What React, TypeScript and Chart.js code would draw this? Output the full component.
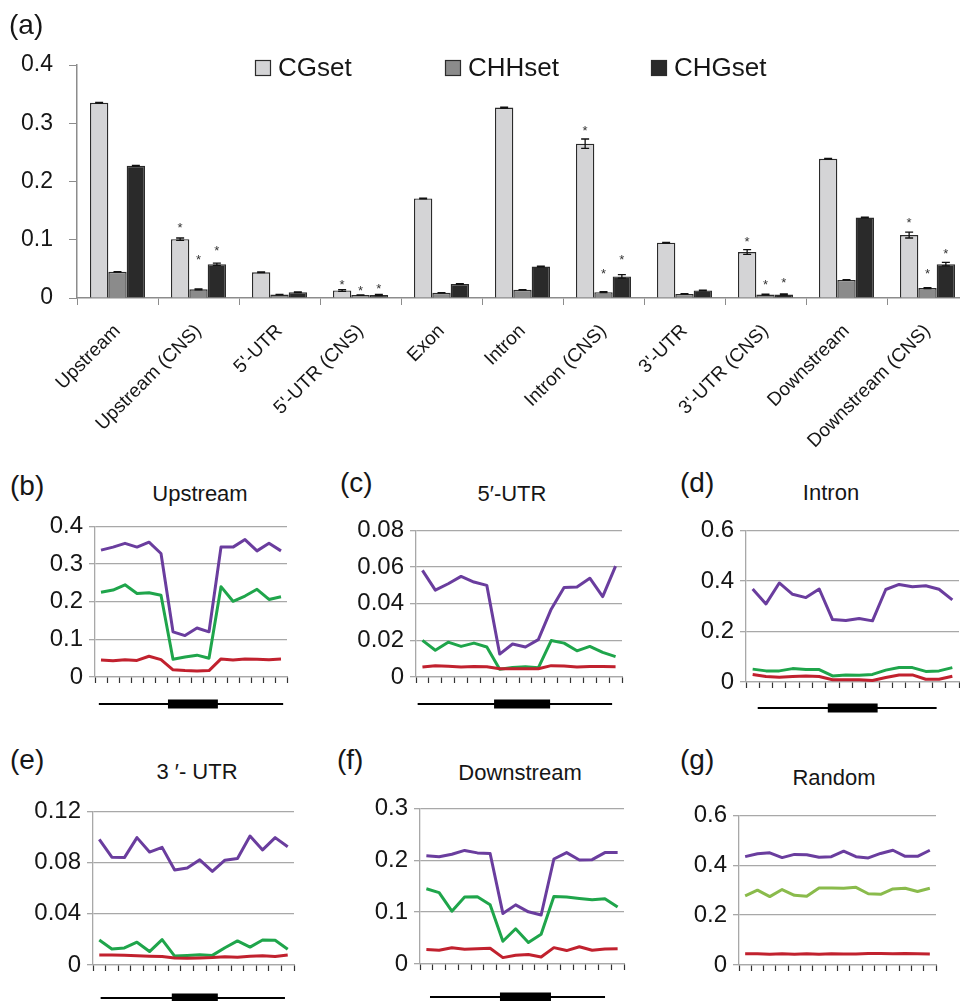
import React, { useEffect, useRef } from "react";
import { Chart, registerables } from "chart.js";

Chart.register(...registerables);

const FONT = "'Liberation Sans', Arial, Helvetica, sans-serif";

// ---------------- Panel (a) data ----------------
const regionLabels = [
  "Upstream",
  "Upstream (CNS)",
  "5'-UTR",
  "5'-UTR (CNS)",
  "Exon",
  "Intron",
  "Intron (CNS)",
  "3'-UTR",
  "3'-UTR (CNS)",
  "Downstream",
  "Downstream (CNS)",
];
const cgValues = [0.335, 0.101, 0.044, 0.013, 0.171, 0.327, 0.265, 0.095, 0.079, 0.239, 0.108];
const chhValues = [0.045, 0.015, 0.006, 0.005, 0.009, 0.014, 0.010, 0.007, 0.006, 0.031, 0.017];
const chgValues = [0.227, 0.058, 0.010, 0.005, 0.024, 0.054, 0.037, 0.013, 0.006, 0.138, 0.058];
const cgErrors = [0.0006, 0.002, 0.0006, 0.0015, 0.0006, 0.0008, 0.008, 0.0006, 0.004, 0.0006, 0.005];
const chhErrors = [0.0004, 0.0008, 0.0003, 0.0004, 0.0003, 0.0004, 0.0008, 0.0003, 0.0004, 0.0004, 0.0008];
const chgErrors = [0.0006, 0.002, 0.0006, 0.001, 0.0006, 0.0006, 0.003, 0.0006, 0.001, 0.0006, 0.003];
const cgStars = [null, 0.127, null, 0.028, null, null, 0.292, null, 0.102, null, 0.134];
const chhStars = [null, 0.072, null, 0.018, null, null, 0.048, null, 0.029, null, 0.047];
const chgStars = [null, 0.086, null, 0.021, null, null, 0.071, null, 0.032, null, 0.081];
const barSeriesNames = ["CGset", "CHHset", "CHGset"];

// ---------------- Line panels data ----------------
const bins = ["1", "2", "3", "4", "5", "6", "7", "8", "9", "10", "11", "12", "13", "14", "15", "16"];

const upstreamCG = [0.337, 0.345, 0.355, 0.345, 0.358, 0.328, 0.12, 0.11, 0.13, 0.12, 0.345, 0.345, 0.365, 0.335, 0.355, 0.335];
const upstreamCHG = [0.225, 0.231, 0.245, 0.222, 0.224, 0.217, 0.047, 0.053, 0.058, 0.05, 0.24, 0.201, 0.215, 0.233, 0.206, 0.213];
const upstreamCHH = [0.045, 0.043, 0.046, 0.044, 0.055, 0.046, 0.019, 0.017, 0.016, 0.017, 0.048, 0.045, 0.048, 0.047, 0.046, 0.048];

const utr5CG = [0.0582, 0.0474, 0.0509, 0.0549, 0.0518, 0.05, 0.0125, 0.018, 0.0164, 0.0204, 0.037, 0.0488, 0.0491, 0.0539, 0.0439, 0.0605];
const utr5CHG = [0.02, 0.0146, 0.019, 0.0167, 0.0185, 0.0164, 0.0042, 0.0052, 0.0056, 0.005, 0.0199, 0.0185, 0.0143, 0.0167, 0.0134, 0.0111];
const utr5CHH = [0.0055, 0.0062, 0.0058, 0.0055, 0.0057, 0.0056, 0.0045, 0.0045, 0.0045, 0.0045, 0.0062, 0.006, 0.0055, 0.0057, 0.0057, 0.0056];

const intronCG = [0.368, 0.309, 0.392, 0.347, 0.334, 0.368, 0.247, 0.243, 0.251, 0.242, 0.366, 0.386, 0.377, 0.381, 0.367, 0.325];
const intronCHG = [0.051, 0.044, 0.044, 0.053, 0.049, 0.049, 0.024, 0.028, 0.027, 0.03, 0.047, 0.057, 0.057, 0.042, 0.044, 0.057];
const intronCHH = [0.03, 0.022, 0.019, 0.022, 0.024, 0.022, 0.009, 0.009, 0.009, 0.006, 0.018, 0.028, 0.028, 0.011, 0.011, 0.023];

const utr3CG = [0.0982, 0.0842, 0.0839, 0.0995, 0.0882, 0.0919, 0.0742, 0.0757, 0.0822, 0.0731, 0.0819, 0.0832, 0.1007, 0.0899, 0.0995, 0.0924];
const utr3CHG = [0.0195, 0.0125, 0.0133, 0.0178, 0.0105, 0.0198, 0.007, 0.0075, 0.008, 0.0075, 0.0135, 0.0188, 0.014, 0.0195, 0.0193, 0.0123];
const utr3CHH = [0.0078, 0.0078, 0.0076, 0.0072, 0.0068, 0.0066, 0.0055, 0.0052, 0.0055, 0.0058, 0.0065, 0.006, 0.0068, 0.0072, 0.0066, 0.0078];

const downstreamCG = [0.2086, 0.2068, 0.2117, 0.219, 0.2142, 0.213, 0.0975, 0.114, 0.1006, 0.0944, 0.2025, 0.2148, 0.2006, 0.2012, 0.2148, 0.2148];
const downstreamCHG = [0.145, 0.1377, 0.1019, 0.129, 0.1296, 0.1142, 0.0438, 0.0679, 0.0414, 0.0574, 0.1302, 0.129, 0.1265, 0.124, 0.1259, 0.1099];
const downstreamCHH = [0.0278, 0.0265, 0.0315, 0.0284, 0.0296, 0.0302, 0.0123, 0.0167, 0.0185, 0.0136, 0.0315, 0.0259, 0.0333, 0.0265, 0.029, 0.0296];

const randomCG = [0.4346, 0.4462, 0.45, 0.4308, 0.4436, 0.4423, 0.4321, 0.4346, 0.4564, 0.4346, 0.4295, 0.4474, 0.4603, 0.4359, 0.4359, 0.4603];
const randomCHG = [0.2769, 0.3, 0.2744, 0.3026, 0.2795, 0.2756, 0.309, 0.309, 0.3077, 0.3115, 0.2859, 0.2833, 0.3051, 0.3077, 0.2949, 0.3077];
const randomCHH = [0.045, 0.045, 0.043, 0.045, 0.043, 0.045, 0.043, 0.045, 0.044, 0.044, 0.046, 0.046, 0.045, 0.046, 0.045, 0.044];

// ---------------- styles ----------------
const PURPLE = "#6a3d9e";
const GREEN = "#1fa54b";
const LIGHTGREEN = "#8abb4c";
const RED = "#c1212e";
const GRID = "#a8a8a8";
const TEXT = "#161616";

type Gene = { x1: number; x2: number; b1: number; b2: number; dy: number } | null;
type Panel = {
  letter: string;
  title: string;
  cg: number[];
  chg: number[];
  chh: number[];
  chgColor: string;
  max: number;
  step: number;
  area: [number, number, number, number];
  gene: Gene;
  letterPos: [number, number];
  titlePos: [number, number];
};

const panels: Panel[] = [
  { letter: "(b)", title: "Upstream", cg: upstreamCG, chg: upstreamCHG, chh: upstreamCHH, chgColor: GREEN, max: 0.4, step: 0.1, area: [95, 520, 287, 677], gene: { x1: 0.02, x2: 0.98, b1: 0.38, b2: 0.64, dy: 27 }, letterPos: [10, 496], titlePos: [200, 502] },
  { letter: "(c)", title: "5\u2032-UTR", cg: utr5CG, chg: utr5CHG, chh: utr5CHH, chgColor: GREEN, max: 0.08, step: 0.02, area: [416, 524, 622, 677], gene: { x1: 0.008, x2: 0.952, b1: 0.379, b2: 0.651, dy: 27 }, letterPos: [340, 493], titlePos: [512, 502] },
  { letter: "(d)", title: "Intron", cg: intronCG, chg: intronCHG, chh: intronCHH, chgColor: GREEN, max: 0.6, step: 0.2, area: [746, 524, 959, 682], gene: { x1: 0.055, x2: 0.895, b1: 0.384, b2: 0.618, dy: 26 }, letterPos: [680, 493], titlePos: [831, 501] },
  { letter: "(e)", title: "3 \u2032- UTR", cg: utr3CG, chg: utr3CHG, chh: utr3CHH, chgColor: GREEN, max: 0.12, step: 0.04, area: [93, 805, 294, 965], gene: { x1: 0.038, x2: 0.955, b1: 0.392, b2: 0.621, dy: 33 }, letterPos: [10, 770], titlePos: [197, 780] },
  { letter: "(f)", title: "Downstream", cg: downstreamCG, chg: downstreamCHG, chh: downstreamCHH, chgColor: GREEN, max: 0.3, step: 0.1, area: [420, 802, 624, 964], gene: { x1: 0.049, x2: 0.907, b1: 0.392, b2: 0.642, dy: 33 }, letterPos: [337, 770], titlePos: [520, 781] },
  { letter: "(g)", title: "Random", cg: randomCG, chg: randomCHG, chh: randomCHH, chgColor: LIGHTGREEN, max: 0.6, step: 0.2, area: [739, 809, 936, 965], gene: null, letterPos: [680, 770], titlePos: [834, 786] },
];

const YW = 75;
const PT = 14;
const PR = 4;
const XH = 48;

function ChartCanvas({ left, top, width, height, makeConfig }: any) {
  const ref = useRef<HTMLCanvasElement | null>(null);
  useEffect(() => {
    if (!ref.current) return;
    const chart = new Chart(ref.current, makeConfig());
    return () => chart.destroy();
  }, []);
  return (
    <canvas
      ref={ref}
      width={width}
      height={height}
      style={{ position: "absolute", left, top, width, height, display: "block" }}
    />
  );
}

function TextAt({ x, y, size, text, center }: any) {
  return (
    <div
      style={{
        position: "absolute",
        left: x,
        top: y - 0.8465 * size,
        fontSize: size,
        lineHeight: 1,
        fontFamily: FONT,
        color: TEXT,
        whiteSpace: "nowrap",
        transform: center ? "translateX(-50%)" : undefined,
      }}
    >
      {text}
    </div>
  );
}

const genePlugin = {
  id: "geneModel",
  afterDraw(chart: any, _args: any, opts: any) {
    const g = opts && opts.gene;
    if (!g) return;
    const { left, right, bottom } = chart.chartArea;
    const w = right - left;
    const ctx = chart.ctx;
    const y = bottom + g.dy;
    ctx.save();
    ctx.strokeStyle = "#000";
    ctx.lineWidth = 2;
    ctx.beginPath();
    ctx.moveTo(left + g.x1 * w, y);
    ctx.lineTo(left + g.x2 * w, y);
    ctx.stroke();
    ctx.fillStyle = "#000";
    ctx.fillRect(left + g.b1 * w, y - 4.5, (g.b2 - g.b1) * w, 9);
    ctx.restore();
  },
};

function makeLineConfig(p: Panel) {
  return () => ({
    type: "line",
    data: {
      labels: bins,
      datasets: [
        { label: "CHH", data: p.chh, borderColor: RED },
        { label: "CHG", data: p.chg, borderColor: p.chgColor },
        { label: "CG", data: p.cg, borderColor: PURPLE },
      ].map((d) => ({ ...d, borderWidth: 3, pointRadius: 0, tension: 0, fill: false, borderJoinStyle: "round" })),
    },
    options: {
      animation: false,
      responsive: false,
      events: [],
      layout: { padding: { top: PT, right: PR, left: 0, bottom: 0 } },
      plugins: { legend: { display: false }, tooltip: { enabled: false }, geneModel: { gene: p.gene } },
      scales: {
        x: {
          type: "category",
          offset: true,
          grid: { display: true, drawOnChartArea: false, drawTicks: true, tickLength: 6, offset: true, color: "#333", tickColor: "#333", tickWidth: 1.2 },
          border: { display: true, color: GRID, width: 1.3 },
          ticks: { display: false, autoSkip: false },
          afterFit: (s: any) => {
            s.height = XH;
          },
        },
        y: {
          min: 0,
          max: p.max,
          ticks: { stepSize: p.step, color: TEXT, padding: 6, font: { family: FONT, size: 24 } },
          grid: { color: GRID, lineWidth: 1.3, drawTicks: true, tickLength: 6 },
          border: { display: true, color: GRID, width: 1.3 },
          afterFit: (s: any) => {
            s.width = YW;
          },
        },
      },
    },
    plugins: [genePlugin],
  });
}

const errorStarPlugin = {
  id: "errorStars",
  afterDatasetsDraw(chart: any) {
    const ctx = chart.ctx;
    const yScale = chart.scales.y;
    ctx.save();
    chart.data.datasets.forEach((ds: any, di: number) => {
      const meta = chart.getDatasetMeta(di);
      meta.data.forEach((bar: any, i: number) => {
        const v = ds.data[i];
        const e = ds.errors[i];
        const x = bar.x;
        const yt = yScale.getPixelForValue(v + e);
        const yb = yScale.getPixelForValue(v - e);
        ctx.strokeStyle = "#111";
        ctx.lineWidth = 1.3;
        ctx.beginPath();
        ctx.moveTo(x, yt);
        ctx.lineTo(x, yb);
        ctx.moveTo(x - 4, yt);
        ctx.lineTo(x + 4, yt);
        ctx.moveTo(x - 4, yb);
        ctx.lineTo(x + 4, yb);
        ctx.stroke();
        const s = ds.stars[i];
        if (s != null) {
          const ys = yScale.getPixelForValue(s);
          ctx.fillStyle = "#333";
          ctx.font = `13px ${FONT}`;
          ctx.textAlign = "center";
          ctx.textBaseline = "alphabetic";
          ctx.fillText("*", x, ys + 0.58 * 13);
        }
      });
    });
    ctx.restore();
  },
};

const legendPlugin = {
  id: "customLegend",
  afterDraw(chart: any) {
    const ctx = chart.ctx;
    const xs = [255, 445, 651];
    ctx.save();
    chart.data.datasets.forEach((ds: any, i: number) => {
      const x = xs[i];
      ctx.fillStyle = ds.backgroundColor;
      ctx.fillRect(x, 60, 16, 16);
      ctx.strokeStyle = "#2b2b2b";
      ctx.lineWidth = 1.2;
      ctx.strokeRect(x + 0.5, 60.5, 15, 15);
      ctx.fillStyle = TEXT;
      ctx.font = `26px ${FONT}`;
      ctx.textAlign = "left";
      ctx.textBaseline = "middle";
      ctx.fillText(ds.label, x + 23, 69);
    });
    ctx.restore();
  },
};

function makeBarConfig() {
  const mk = (label: string, data: number[], color: string, errors: number[], stars: any[]) => ({
    label,
    data,
    backgroundColor: color,
    borderColor: "#2b2b2b",
    borderWidth: 1.4,
    errors,
    stars,
  });
  return {
    type: "bar",
    data: {
      labels: regionLabels,
      datasets: [
        mk(barSeriesNames[0], cgValues, "#d4d4d6", cgErrors, cgStars),
        mk(barSeriesNames[1], chhValues, "#8b8b8b", chhErrors, chhStars),
        mk(barSeriesNames[2], chgValues, "#2a2a2a", chgErrors, chgStars),
      ],
    },
    options: {
      animation: false,
      responsive: false,
      events: [],
      layout: { padding: { top: 65, right: 32, left: 0, bottom: 0 } },
      datasets: { bar: { categoryPercentage: 0.68, barPercentage: 1 } },
      plugins: { legend: { display: false }, tooltip: { enabled: false } },
      scales: {
        x: {
          grid: { drawOnChartArea: false, drawTicks: true, tickLength: 7, color: "#8c8c8c", offset: true },
          border: { display: true, color: "#8c8c8c", width: 1.5 },
          ticks: { maxRotation: 45, minRotation: 45, autoSkip: false, color: TEXT, padding: 15, font: { family: FONT, size: 19 } },
          afterFit: (s: any) => {
            s.height = 167;
          },
        },
        y: {
          min: 0,
          max: 0.4,
          ticks: { stepSize: 0.1, color: TEXT, padding: 16, font: { family: FONT, size: 23 } },
          grid: { drawOnChartArea: false, drawTicks: true, tickLength: 8, color: "#8c8c8c" },
          border: { display: true, color: "#8c8c8c", width: 1.5 },
          afterFit: (s: any) => {
            s.width = 77;
          },
        },
      },
    },
    plugins: [errorStarPlugin, legendPlugin],
  };
}

export default function App() {
  return (
    <div
      style={{
        position: "absolute",
        left: 0,
        top: 0,
        width: 960,
        height: 1001,
        overflow: "hidden",
        background: "#fff",
      }}
    >
      <ChartCanvas left={0} top={0} width={1000} height={465} makeConfig={makeBarConfig} />
      <TextAt x={9} y={35} size={28} text="(a)" />
      {panels.map((p) => {
        const [l, t, r, b] = p.area;
        const cl = l - YW;
        const ct = t - PT;
        const w = r - cl + PR;
        const h = b - ct + XH;
        return (
          <React.Fragment key={p.letter}>
            <ChartCanvas left={cl} top={ct} width={w} height={h} makeConfig={makeLineConfig(p)} />
            <TextAt x={p.letterPos[0]} y={p.letterPos[1]} size={28} text={p.letter} />
            <TextAt x={p.titlePos[0]} y={p.titlePos[1]} size={22} text={p.title} center />
          </React.Fragment>
        );
      })}
    </div>
  );
}
